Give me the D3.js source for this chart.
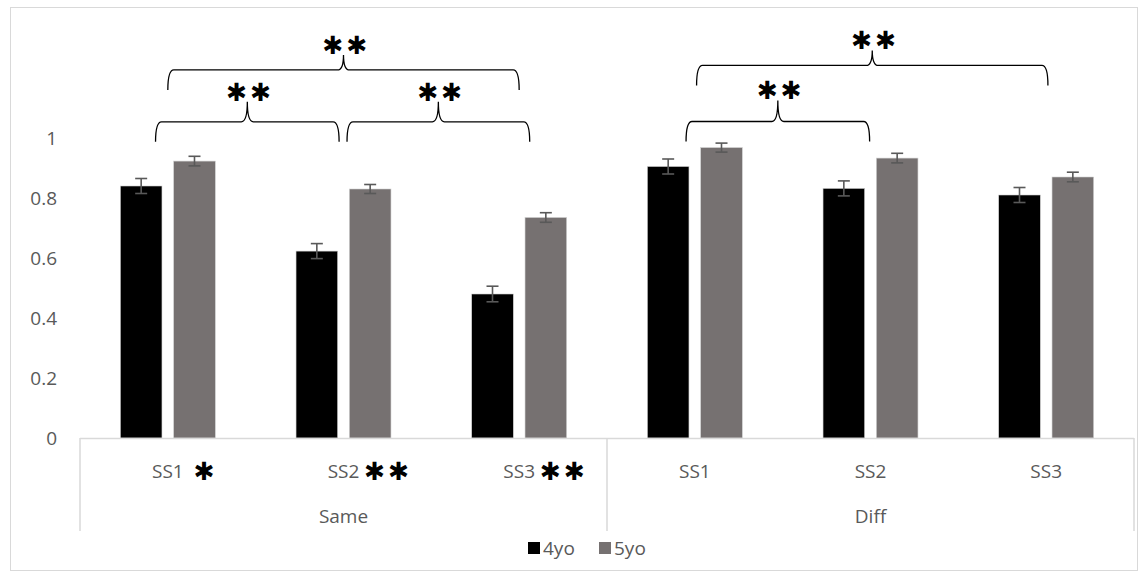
<!DOCTYPE html>
<html>
<head>
<meta charset="utf-8">
<script src="https://cdn.jsdelivr.net/npm/d3@7"></script>
<style>
  html, body { margin: 0; padding: 0; background: #fff; }
  svg { display: block; }
  text { font-family: "Open Sans", "Noto Sans", sans-serif; }
</style>
</head>
<body>
<svg id="chart" width="1148" height="578"></svg>
<script>
// ---- data ----
const groups = ["Same", "Diff"];
const subCategories = ["SS1", "SS2", "SS3"];
const series = ["4yo", "5yo"];
const values4yo = [0.84, 0.623, 0.48, 0.905, 0.832, 0.81];
const values5yo = [0.923, 0.83, 0.735, 0.968, 0.933, 0.87];
const errors4yo = [0.025, 0.025, 0.026, 0.025, 0.025, 0.025];
const errors5yo = [0.016, 0.015, 0.016, 0.015, 0.016, 0.016];
const categoryStars = ["✱", "✱✱", "✱✱", "", "", ""];
const yTicks = [0, 0.2, 0.4, 0.6, 0.8, 1];
// significance brackets: from/to category index (with small shifts in category units), height in value units
const brackets = [
  { from: 0, fromShift: 0.0, to: 2, toShift: 0.0, level: 1.227, tip: 15, label: "✱✱" },
  { from: 0, fromShift: -0.07, to: 1, toShift: -0.025, level: 1.054, tip: 20, label: "✱✱" },
  { from: 1, fromShift: 0.02, to: 2, toShift: 0.06, level: 1.054, tip: 20, label: "✱✱" },
  { from: 3, fromShift: 0.01, to: 5, toShift: 0.01, level: 1.242, tip: 15, label: "✱✱" },
  { from: 3, fromShift: -0.05, to: 4, toShift: -0.005, level: 1.055, tip: 21, label: "✱✱" }
];

const colors = { "4yo": "#000000", "5yo": "#767171" };
const seriesValues = { "4yo": values4yo, "5yo": values5yo };
const seriesErrors = { "4yo": errors4yo, "5yo": errors5yo };

const categories = [];
groups.forEach(g => subCategories.forEach(s => categories.push(g + "|" + s)));

const svg = d3.select("#chart");
const labelSize = "19px";
const starSize = 25;

// outer frame
svg.append("rect")
  .attr("x", 10.5).attr("y", 7.5)
  .attr("width", 1127).attr("height", 563)
  .attr("fill", "#fff").attr("stroke", "#d9d9d9").attr("stroke-width", 1);

const plotLeft = 80, plotRight = 1134;
const x = d3.scaleBand().domain(categories).range([plotLeft, plotRight]).paddingInner(0).paddingOuter(0);
const xs = d3.scaleBand().domain(series).range([0, x.bandwidth()]).paddingInner(0.22).paddingOuter(0.757);
const y = d3.scaleLinear().domain([0, 1]).range([438, 138]);

const catCenter = (i, shift) => x(categories[i]) + x.bandwidth() * (0.5 + shift);

// y axis labels (no line, no ticks)
const yAxis = d3.axisLeft(y).tickValues(yTicks).tickSize(0).tickPadding(0)
  .tickFormat(d => d3.format("")(d));
const yg = svg.append("g").attr("transform", "translate(57,0)").call(yAxis);
yg.select(".domain").remove();
yg.selectAll("text")
  .attr("fill", "#595959")
  .style("font-size", labelSize)
  .style("font-family", "'Open Sans', sans-serif");

// bars
const barData = [];
series.forEach(s => categories.forEach((c, i) => barData.push({ s, c, v: seriesValues[s][i], e: seriesErrors[s][i] })));

svg.append("g").selectAll("rect").data(barData).join("rect")
  .attr("x", d => x(d.c) + xs(d.s))
  .attr("y", d => y(d.v))
  .attr("width", xs.bandwidth())
  .attr("height", d => y(0) - y(d.v))
  .attr("fill", d => colors[d.s])
  .attr("stroke", "#cfcfcf")
  .attr("stroke-width", 0.6);

// error bars
const eg = svg.append("g").attr("stroke", "#595959").attr("stroke-width", 1.6).attr("fill", "none");
barData.forEach(d => {
  const cx = x(d.c) + xs(d.s) + xs.bandwidth() / 2;
  const yTop = y(d.v + d.e), yBot = y(d.v - d.e);
  eg.append("line").attr("x1", cx).attr("x2", cx).attr("y1", yTop).attr("y2", yBot);
  eg.append("line").attr("x1", cx - 6).attr("x2", cx + 6).attr("y1", yTop).attr("y2", yTop);
  eg.append("line").attr("x1", cx - 6).attr("x2", cx + 6).attr("y1", yBot).attr("y2", yBot);
});

// category axis
const axisColor = "#d9d9d9";
svg.append("line").attr("x1", plotLeft).attr("x2", plotRight).attr("y1", 438.5).attr("y2", 438.5)
  .attr("stroke", axisColor).attr("stroke-width", 1.5);
[0, 3, 6].forEach(k => {
  const xx = k < 6 ? x(categories[k]) : plotRight;
  svg.append("line").attr("x1", xx).attr("x2", xx).attr("y1", 438).attr("y2", 531)
    .attr("stroke", axisColor).attr("stroke-width", 1.5);
});

// sub-category labels + stars
categories.forEach((c, i) => {
  const cx = x(c) + x.bandwidth() / 2;
  const name = c.split("|")[1];
  const t = svg.append("text").attr("x", cx).attr("y", 471).attr("dy", "0.35em")
    .attr("text-anchor", "middle").attr("fill", "#595959").style("font-size", labelSize).text(name);
  if (categoryStars[i]) {
    const w = t.node().getComputedTextLength();
    svg.append("text").attr("x", cx + w / 2 + (categoryStars[i].length === 1 ? 10 : 5))
      .attr("y", 471 + 0.35 * starSize)
      .attr("fill", "#000").style("font-family", "'DejaVu Sans', sans-serif")
      .style("font-size", starSize + "px").style("letter-spacing", "3px").text(categoryStars[i]);
  }
});

// group labels
groups.forEach((g, gi) => {
  const a = x(categories[gi * 3]);
  const b = gi * 3 + 3 < categories.length ? x(categories[gi * 3 + 3]) : plotRight;
  svg.append("text").attr("x", (a + b) / 2).attr("y", 516).attr("dy", "0.35em")
    .attr("text-anchor", "middle").attr("fill", "#595959").style("font-size", labelSize).text(g);
});

// significance brackets
const bg = svg.append("g");
brackets.forEach(br => {
  const x1 = catCenter(br.from, br.fromShift);
  const x2 = catCenter(br.to, br.toShift);
  const yh = y(br.level);
  const yb = yh + 20;
  const xm = (x1 + x2) / 2;
  const yt = yh - br.tip;
  const r = 6;
  const p = d3.path();
  p.moveTo(x1, yb);
  p.quadraticCurveTo(x1, yh, x1 + r, yh);
  p.lineTo(xm - r, yh);
  p.quadraticCurveTo(xm, yh, xm, yt);
  p.quadraticCurveTo(xm, yh, xm + r, yh);
  p.lineTo(x2 - r, yh);
  p.quadraticCurveTo(x2, yh, x2, yb);
  bg.append("path").attr("d", p.toString()).attr("fill", "none")
    .attr("stroke", "#000").attr("stroke-width", 1.3);
  bg.append("text").attr("x", xm + 3).attr("y", yt - 10 + 0.35 * starSize).attr("text-anchor", "middle")
    .attr("fill", "#000").style("font-family", "'DejaVu Sans', sans-serif")
    .style("font-size", starSize + "px").style("letter-spacing", "3px").text(br.label);
});

// legend
const legendItems = [{ s: "4yo", x: 528 }, { s: "5yo", x: 599 }];
const lg = svg.append("g");
legendItems.forEach(it => {
  lg.append("rect").attr("x", it.x).attr("y", 542).attr("width", 12).attr("height", 12).attr("fill", colors[it.s]);
  lg.append("text").attr("x", it.x + 15).attr("y", 548).attr("dy", "0.35em")
    .attr("fill", "#595959").style("font-size", labelSize).text(it.s);
});
</script>
</body>
</html>
